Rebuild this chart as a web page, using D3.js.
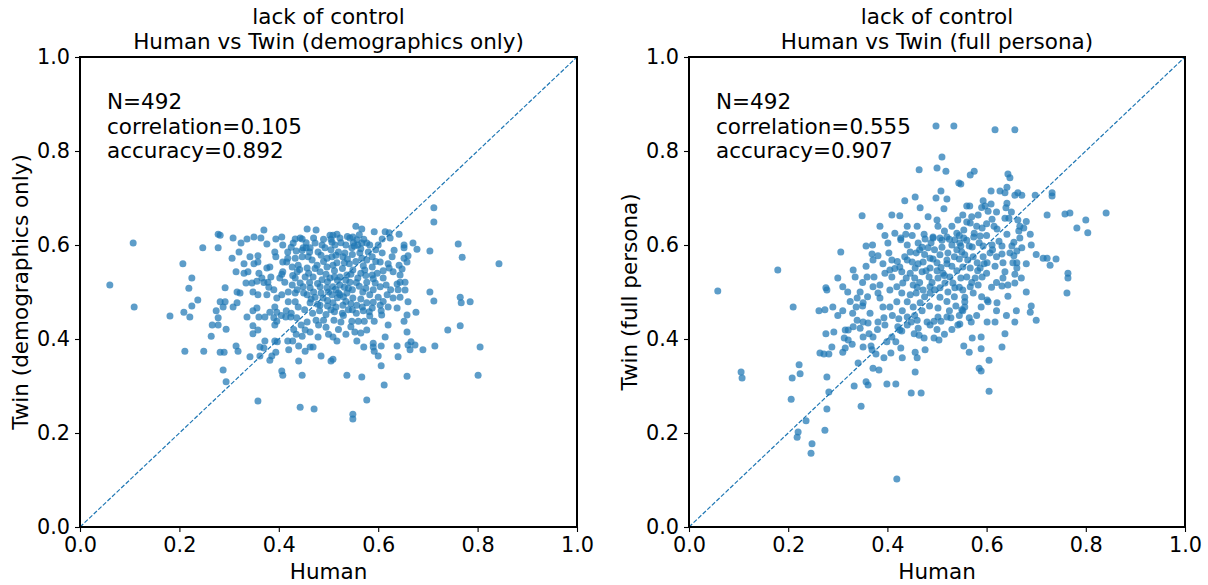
<!DOCTYPE html>
<html>
<head>
<meta charset="utf-8">
<script src="https://cdn.jsdelivr.net/npm/d3@7"></script>
<style>
  body { margin: 0; background: #fff; }
  svg text { font-family: "DejaVu Sans", sans-serif; fill: #000; }
</style>
</head>
<body>
<svg id="chart" width="1208" height="585"></svg>
<script>
// ---- data ----
var ticks = [0.0, 0.2, 0.4, 0.6, 0.8, 1.0];
var titleTop = "lack of control";
var panelTitles = ["Human vs Twin (demographics only)", "Human vs Twin (full persona)"];
var yLabels = ["Twin (demographics only)", "Twin (full persona)"];
var xLabel = "Human";
var statsN = [492, 492];
var statsCorr = ["0.105", "0.555"];
var statsAcc = ["0.892", "0.907"];

// [human, twin] for the demographics-only panel
var demoPoints = [
  [0.107,0.604],[0.06,0.515],[0.109,0.468],[0.207,0.56],[0.225,0.53],[0.219,0.508],[0.247,0.594],[0.278,0.623],[0.282,0.621],
  [0.308,0.615],[0.278,0.594],[0.306,0.572],[0.324,0.604],[0.336,0.613],[0.35,0.617],[0.364,0.615],[0.37,0.632],[0.376,0.602],
  [0.394,0.613],[0.406,0.617],[0.358,0.577],[0.358,0.564],[0.392,0.585],[0.394,0.575],[0.314,0.543],[0.33,0.54],[0.338,0.543],
  [0.366,0.53],[0.292,0.509],[0.316,0.5],[0.322,0.498],[0.237,0.483],[0.225,0.47],[0.282,0.479],[0.292,0.479],[0.316,0.477],
  [0.308,0.468],[0.334,0.519],[0.346,0.519],[0.356,0.523],[0.378,0.521],[0.384,0.532],[0.406,0.538],[0.418,0.572],[0.433,0.613],
  [0.447,0.613],[0.429,0.604],[0.435,0.587],
  [0.712,0.679],[0.712,0.649],[0.761,0.602],[0.769,0.574],[0.843,0.56],[0.704,0.587],[0.678,0.591],[0.67,0.604],[0.652,0.6],
  [0.652,0.594],[0.652,0.572],[0.648,0.549],[0.654,0.521],[0.644,0.521],[0.704,0.5],[0.712,0.481],[0.765,0.489],[0.767,0.477],
  [0.785,0.479],[0.642,0.623],[0.624,0.615],[0.614,0.628],[0.622,0.626],[0.608,0.613],[0.592,0.628],[0.567,0.634],[0.555,0.64],
  [0.457,0.634],[0.475,0.632],[0.632,0.589],[0.66,0.577],[0.658,0.564],[0.642,0.557],[0.644,0.536],[0.63,0.543],[0.622,0.551],
  [0.61,0.53],[0.616,0.515],[0.638,0.517],[0.654,0.504],[0.644,0.489],[0.66,0.479],
  [0.676,0.457],[0.658,0.451],[0.652,0.438],[0.658,0.415],[0.62,0.43],[0.614,0.404],[0.74,0.419],[0.765,0.428],[0.714,0.385],
  [0.69,0.377],[0.805,0.383],[0.801,0.323],[0.658,0.321],[0.638,0.385],[0.64,0.362],[0.66,0.387],[0.666,0.394],[0.674,0.387],
  [0.664,0.377],[0.606,0.385],[0.612,0.302],[0.606,0.343],[0.6,0.364],[0.59,0.391],[0.59,0.383],[0.592,0.374],[0.577,0.27],
  [0.567,0.319],[0.537,0.323],[0.549,0.24],[0.549,0.23],[0.471,0.251],[0.443,0.255],[0.447,0.323],[0.505,0.353],[0.509,0.357],
  [0.485,0.364],[0.453,0.374],[0.463,0.383],[0.469,0.383],[0.517,0.396],[0.509,0.404],[0.479,0.404],[0.571,0.383],[0.557,0.396],
  [0.577,0.419],[0.565,0.413],[0.553,0.415],[0.545,0.426],[0.525,0.436],[0.511,0.44],[0.463,0.415],[0.447,0.406],[0.453,0.419],
  [0.457,0.436],[0.592,0.438],[0.572,0.438],[0.56,0.438],[0.547,0.438],[0.583,0.449],[0.607,0.451],[0.606,0.46],[0.638,0.466],
  [0.181,0.449],[0.209,0.457],[0.221,0.447],[0.211,0.374],[0.249,0.374],[0.282,0.372],[0.29,0.372],[0.264,0.406],[0.266,0.43],
  [0.278,0.43],[0.278,0.445],[0.274,0.46],[0.294,0.421],[0.288,0.334],[0.294,0.309],[0.314,0.385],[0.318,0.374],[0.342,0.362],
  [0.358,0.268],[0.348,0.428],[0.348,0.411],[0.358,0.419],[0.362,0.383],[0.362,0.364],[0.37,0.381],[0.372,0.396],[0.382,0.355],
  [0.386,0.364],[0.394,0.372],[0.392,0.396],[0.397,0.394],[0.406,0.332],[0.408,0.323],[0.418,0.396],[0.428,0.396],[0.44,0.385],
  [0.42,0.377],[0.44,0.353],[0.336,0.447],[0.36,0.447],[0.372,0.447],[0.382,0.457],[0.396,0.457],[0.392,0.43],[0.396,0.438],
  [0.414,0.447],[0.424,0.447],[0.436,0.445],[0.348,0.46],[0.356,0.466],[0.288,0.468],[0.445,0.43],
  [0.443,0.615],[0.449,0.594],[0.455,0.594],[0.463,0.594],[0.473,0.604],[0.487,0.6],[0.493,0.594],[0.503,0.621],[0.509,0.621],
  [0.517,0.623],[0.523,0.615],[0.507,0.606],[0.513,0.6],[0.543,0.615],[0.549,0.617],[0.557,0.611],[0.559,0.6],[0.567,0.604],
  [0.577,0.604],[0.583,0.6],[0.547,0.594],[0.533,0.583],[0.529,0.575],[0.563,0.583],[0.567,0.572],[0.577,0.568],[0.588,0.575],
  [0.608,0.583],[0.447,0.575],[0.459,0.575],[0.467,0.568],[0.479,0.585],[0.477,0.557],[0.497,0.572],[0.507,0.575],[0.509,0.557],
  [0.517,0.562],[0.497,0.553],[0.483,0.543],[0.457,0.551],[0.453,0.532],[0.469,0.532],[0.487,0.526],[0.503,0.53],[0.523,0.532],
  [0.537,0.536],[0.549,0.547],[0.573,0.547],[0.588,0.553],[0.604,0.564],[0.588,0.536],[0.559,0.53],[0.577,0.521],[0.594,0.519],
  [0.604,0.511],[0.543,0.521],[0.523,0.515],[0.509,0.511],[0.497,0.509],[0.483,0.511],[0.463,0.509],[0.449,0.511],[0.457,0.494],
  [0.473,0.489],[0.489,0.487],[0.507,0.494],[0.523,0.494],[0.537,0.498],[0.549,0.487],[0.569,0.5],[0.583,0.494],[0.6,0.489],
  [0.618,0.494],[0.63,0.487],[0.577,0.477],[0.557,0.472],[0.529,0.472],[0.509,0.477],[0.483,0.472],[0.463,0.477],[0.604,0.472],
  [0.62,0.468],
  [0.408,0.564],[0.427,0.553],[0.437,0.543],[0.433,0.53],[0.443,0.519],[0.427,0.515],[0.412,0.521],[0.419,0.5],[0.433,0.498],
  [0.406,0.494],[0.396,0.487],[0.376,0.494],[0.358,0.494],[0.348,0.5],[0.419,0.479],[0.433,0.479],[0.439,0.468],[0.392,0.468],
  [0.408,0.543],[0.416,0.564],[0.433,0.572],[0.439,0.557],[0.382,0.553],[0.376,0.551],[0.402,0.53],[0.408,0.6],[0.447,0.589],
  [0.452,0.462],[0.468,0.455],[0.482,0.46],[0.495,0.452],[0.512,0.458],[0.528,0.455],[0.54,0.462],[0.556,0.455],[0.57,0.46],
  [0.588,0.466],[0.498,0.47],[0.515,0.468],[0.535,0.48],[0.548,0.505],[0.562,0.512],[0.575,0.508],[0.59,0.505],[0.532,0.51],
  [0.518,0.525],[0.495,0.538],[0.512,0.545],[0.528,0.55],[0.542,0.56],[0.555,0.565],[0.538,0.57],[0.52,0.585],[0.505,0.59],
  [0.49,0.565],[0.473,0.55],[0.46,0.54],[0.442,0.548],[0.428,0.535],[0.418,0.585],[0.425,0.595],[0.455,0.605],[0.47,0.615],
  [0.49,0.612],[0.535,0.6],[0.55,0.605],[0.565,0.592],[0.58,0.585],[0.595,0.59],[0.6,0.6],[0.61,0.545],[0.62,0.56],
  [0.628,0.575],[0.598,0.54],[0.565,0.54],[0.575,0.535],[0.47,0.5],[0.485,0.498],[0.5,0.5],[0.515,0.505],[0.53,0.49],
  [0.545,0.475],[0.565,0.485],[0.59,0.478],[0.61,0.48],[0.625,0.505],[0.64,0.505],[0.415,0.46],[0.425,0.455],[0.405,0.45],
  [0.39,0.445],[0.43,0.42],[0.435,0.41],[0.48,0.43],[0.495,0.425],[0.5,0.41],[0.52,0.42],[0.535,0.41],[0.53,0.45],
  [0.49,0.44],[0.475,0.44],[0.38,0.51],[0.39,0.505],[0.37,0.52],[0.36,0.54],[0.35,0.56],[0.342,0.575],[0.32,0.585],[0.33,0.56],
  [0.505,0.612],[0.525,0.605],[0.538,0.618],[0.552,0.598],[0.571,0.612],[0.562,0.622],[0.515,0.578],[0.532,0.562],[0.548,0.58],
  [0.498,0.522],[0.512,0.532],[0.535,0.525],[0.556,0.52],[0.545,0.538],[0.52,0.498],[0.54,0.508],[0.478,0.518],[0.462,0.52],
  [0.465,0.485],[0.498,0.482],[0.518,0.488],[0.548,0.462],[0.568,0.468],[0.582,0.458],[0.505,0.462],[0.478,0.474],[0.59,0.528],
  [0.57,0.556],[0.595,0.565],[0.485,0.578],[0.462,0.585],[0.437,0.505],[0.45,0.498]
];

// [human, twin] for the full-persona panel
var fullPoints = [
  [0.058,0.502],[0.179,0.547],[0.276,0.509],[0.278,0.504],
  [0.498,0.853],[0.534,0.853],[0.51,0.787],[0.5,0.764],[0.518,0.757],[0.464,0.76],[0.544,0.732],[0.508,0.715],[0.456,0.702],
  [0.498,0.7],[0.52,0.698],[0.435,0.694],[0.466,0.679],[0.514,0.677],[0.349,0.662],[0.409,0.664],[0.425,0.662],[0.482,0.66],
  [0.5,0.653],[0.502,0.64],[0.542,0.653],[0.437,0.623],[0.427,0.615],[0.474,0.623],[0.492,0.617],
  [0.617,0.845],[0.657,0.845],[0.575,0.757],[0.567,0.749],[0.643,0.751],[0.647,0.743],[0.609,0.715],[0.627,0.715],[0.641,0.723],
  [0.637,0.711],[0.663,0.711],[0.671,0.706],[0.657,0.706],[0.698,0.706],[0.732,0.711],[0.732,0.704],[0.548,0.73],[0.593,0.694],
  [0.609,0.687],[0.597,0.683],[0.641,0.689],[0.639,0.679],[0.603,0.672],[0.56,0.683],[0.566,0.683],[0.722,0.664],[0.758,0.666],
  [0.768,0.668],[0.841,0.668],[0.8,0.653],[0.782,0.636],[0.804,0.626],[0.637,0.657],[0.645,0.657],[0.611,0.655],[0.583,0.664],
  [0.552,0.664],[0.663,0.653],[0.667,0.64],[0.675,0.636],[0.665,0.63],[0.688,0.623],[0.641,0.623],[0.621,0.634],[0.667,0.615],
  [0.671,0.594],[0.655,0.606],[0.651,0.598],[0.631,0.598],[0.611,0.6],[0.593,0.598],[0.587,0.619],[0.574,0.617],[0.567,0.647],
  [0.554,0.632],[0.56,0.649],[0.591,0.636],[0.714,0.572],[0.722,0.572],[0.74,0.57],[0.728,0.557],[0.764,0.54],[0.764,0.53],
  [0.762,0.498],[0.631,0.581],[0.647,0.583],[0.655,0.577],[0.661,0.587],[0.633,0.562],[0.653,0.562],[0.661,0.562],[0.661,0.551],
  [0.617,0.555],[0.657,0.538],[0.637,0.543],[0.633,0.53],[0.631,0.513],[0.643,0.515],[0.657,0.519],[0.643,0.491],
  [0.688,0.457],[0.657,0.436],[0.617,0.436],[0.601,0.436],[0.637,0.411],[0.631,0.383],[0.589,0.404],[0.571,0.402],[0.554,0.385],
  [0.565,0.372],[0.589,0.379],[0.605,0.355],[0.585,0.338],[0.589,0.332],[0.605,0.289],[0.589,0.468],[0.603,0.479],[0.621,0.477],
  [0.565,0.445],[0.569,0.436],[0.552,0.46],[0.556,0.468],[0.546,0.432],
  [0.21,0.468],[0.262,0.46],[0.274,0.462],[0.276,0.411],[0.264,0.37],[0.272,0.368],[0.282,0.368],[0.222,0.345],[0.224,0.326],
  [0.208,0.317],[0.105,0.33],[0.107,0.317],[0.206,0.272],[0.278,0.319],[0.282,0.287],[0.278,0.251],[0.236,0.226],[0.22,0.202],
  [0.218,0.191],[0.274,0.206],[0.248,0.177],[0.246,0.157],
  [0.347,0.257],[0.419,0.102],
  [0.448,0.285],[0.468,0.285],[0.456,0.33],[0.399,0.304],[0.417,0.304],[0.333,0.3],[0.357,0.309],[0.361,0.302],[0.371,0.338],
  [0.383,0.334],[0.341,0.349],[0.393,0.36],[0.407,0.37],[0.43,0.36],[0.46,0.36],[0.456,0.372],[0.427,0.381],[0.476,0.377],
  [0.377,0.368],[0.369,0.377],[0.351,0.383],[0.31,0.372],[0.315,0.381],[0.288,0.383],[0.329,0.389],[0.321,0.398],[0.313,0.402],
  [0.351,0.404],[0.363,0.411],[0.371,0.404],[0.367,0.385],[0.292,0.415],[0.315,0.419],[0.321,0.419],[0.331,0.426],[0.345,0.423],
  [0.351,0.436],[0.361,0.434],[0.339,0.44],[0.381,0.436],[0.393,0.445],[0.423,0.443],[0.399,0.394],[0.409,0.404],[0.417,0.394],
  [0.425,0.419],[0.429,0.417],[0.421,0.426],[0.44,0.447],[0.448,0.436],[0.462,0.423],[0.454,0.411],[0.464,0.408],[0.474,0.402],
  [0.48,0.436],[0.494,0.438],[0.508,0.438],[0.486,0.43],[0.494,0.402],[0.504,0.398],[0.528,0.445],[0.542,0.43],[0.52,0.447],
  [0.306,0.585],[0.357,0.598],[0.331,0.547],[0.335,0.532],[0.31,0.511],[0.29,0.468],[0.337,0.468],[0.339,0.487],[0.351,0.477],
  [0.357,0.555],[0.371,0.568],[0.369,0.581],[0.381,0.577],[0.359,0.532],[0.373,0.532],[0.371,0.511],[0.385,0.515],[0.381,0.498],
  [0.385,0.487],[0.391,0.56],[0.401,0.604],[0.403,0.583],[0.409,0.568],[0.405,0.547],[0.409,0.532],[0.425,0.553],[0.427,0.611],
  [0.446,0.585],[0.458,0.583],[0.462,0.604],[0.476,0.613],[0.482,0.594],[0.486,0.572],[0.472,0.564],[0.44,0.568],[0.45,0.564],
  [0.429,0.543],[0.446,0.54],[0.456,0.551],[0.47,0.543],[0.484,0.532],[0.486,0.551],[0.5,0.562],[0.506,0.579],[0.522,0.583],
  [0.52,0.568],[0.512,0.54],[0.502,0.53],[0.526,0.532],[0.516,0.519],[0.532,0.519],[0.486,0.511],[0.452,0.515],[0.431,0.519],
  [0.419,0.511],[0.405,0.504],[0.429,0.498],[0.446,0.494],[0.458,0.498],[0.472,0.504],[0.486,0.498],[0.506,0.509],[0.506,0.489],
  [0.502,0.466],[0.502,0.447],[0.536,0.509],[0.44,0.479],[0.452,0.468],[0.466,0.477],[0.419,0.479],[0.405,0.468],[0.391,0.468],
  [0.365,0.455],[0.492,0.615],[0.506,0.615],[0.52,0.617],[0.536,0.611],
  [0.55,0.585],[0.556,0.579],[0.562,0.568],[0.573,0.575],[0.581,0.562],[0.587,0.551],[0.567,0.551],[0.552,0.553],[0.56,0.532],
  [0.577,0.53],[0.591,0.532],[0.583,0.515],[0.567,0.511],[0.552,0.504],[0.573,0.498],[0.556,0.489],[0.601,0.483],[0.593,0.575],
  [0.601,0.562],[0.607,0.583],[0.554,0.615],[0.571,0.596],[0.546,0.604],[0.556,0.479],[0.55,0.462],
  [0.53,0.6],[0.54,0.59],[0.545,0.57],[0.53,0.555],[0.54,0.545],[0.548,0.53],[0.522,0.5],[0.535,0.49],[0.52,0.48],
  [0.538,0.47],[0.525,0.46],[0.515,0.63],[0.53,0.64],[0.54,0.625],[0.46,0.64],[0.45,0.62],[0.44,0.64],[0.415,0.625],
  [0.395,0.62],[0.385,0.64],[0.37,0.6],[0.35,0.52],[0.32,0.5],[0.325,0.48],[0.31,0.46],[0.3,0.45],[0.33,0.455],
  [0.345,0.5],[0.395,0.54],[0.415,0.55],[0.435,0.575],[0.455,0.53],[0.465,0.52],[0.49,0.52],[0.5,0.545],[0.475,0.58],
  [0.495,0.59],[0.51,0.595],[0.465,0.59],[0.455,0.45],[0.47,0.46],[0.485,0.47],[0.41,0.45],[0.395,0.43],[0.38,0.42],
  [0.43,0.46],[0.44,0.43],[0.46,0.44],[0.5,0.42],[0.515,0.41],[0.53,0.42],[0.545,0.45],[0.58,0.45],[0.59,0.49],
  [0.61,0.51],[0.62,0.52],[0.6,0.54],[0.62,0.575],[0.6,0.62],[0.615,0.64],[0.58,0.64],[0.57,0.66],[0.59,0.68],
  [0.62,0.67],[0.65,0.67],[0.68,0.65],[0.69,0.6],[0.7,0.58],[0.68,0.56],[0.67,0.53],[0.68,0.5],[0.69,0.47],
  [0.7,0.44],[0.66,0.46],[0.64,0.45],[0.62,0.46],[0.35,0.47],[0.36,0.49],[0.3,0.53],
  [0.525,0.612],[0.545,0.62],[0.56,0.61],[0.575,0.625],[0.585,0.605],[0.565,0.598],[0.548,0.598],[0.535,0.575],[0.52,0.56],
  [0.508,0.552],[0.492,0.57],[0.478,0.545],[0.462,0.56],[0.47,0.595],[0.488,0.605],[0.51,0.61],[0.595,0.56],[0.612,0.59],
  [0.625,0.608],[0.6,0.645],[0.582,0.545],[0.57,0.52],[0.545,0.51],[0.515,0.535],[0.495,0.505],[0.475,0.49],[0.46,0.51],
  [0.438,0.53],[0.42,0.565],[0.44,0.6]
];

// ---- layout ----
var svg = d3.select("#chart");
var plotTop = 57, plotBottom = 527;
var panels = [
  { left: 80, right: 577, points: demoPoints },
  { left: 689, right: 1185, points: fullPoints }
];
var blue = "#1f77b4";
var tickFs = "20.8px";
var fs = "21.5px";

panels.forEach(function (p, i) {
  var x = d3.scaleLinear().domain([0, 1]).range([p.left, p.right]);
  var y = d3.scaleLinear().domain([0, 1]).range([plotBottom, plotTop]);
  var g = svg.append("g");
  var cx = (p.left + p.right) / 2;

  // diagonal
  g.append("line")
    .attr("x1", x(0)).attr("y1", y(0))
    .attr("x2", x(1)).attr("y2", y(1))
    .attr("stroke", blue)
    .attr("stroke-width", 1.2)
    .attr("stroke-dasharray", "4.4,1.9");

  // points
  g.append("g")
    .selectAll("circle")
    .data(p.points)
    .enter()
    .append("circle")
    .attr("cx", function (d) { return x(d[0]); })
    .attr("cy", function (d) { return y(d[1]); })
    .attr("r", 3.5)
    .attr("fill", blue)
    .attr("fill-opacity", 0.72);

  // axes
  var xa = g.append("g")
    .attr("transform", "translate(0," + plotBottom + ")")
    .call(d3.axisBottom(x).tickValues(ticks).tickFormat(d3.format(".1f")).tickSize(5).tickPadding(5));
  var ya = g.append("g")
    .attr("transform", "translate(" + p.left + ",0)")
    .call(d3.axisLeft(y).tickValues(ticks).tickFormat(d3.format(".1f")).tickSize(5).tickPadding(5));
  [xa, ya].forEach(function (a) {
    a.select(".domain").remove();
    a.selectAll("line").attr("stroke", "#000").attr("stroke-width", 1.1);
    a.selectAll("text").style("font-size", tickFs).style("font-family", "DejaVu Sans");
  });

  // frame
  g.append("rect")
    .attr("x", p.left).attr("y", plotTop)
    .attr("width", p.right - p.left).attr("height", plotBottom - plotTop)
    .attr("fill", "none").attr("stroke", "#000").attr("stroke-width", 1.1)
    .attr("shape-rendering", "crispEdges");

  // titles
  g.append("text").attr("x", cx).attr("y", 24).attr("text-anchor", "middle")
    .style("font-size", fs).text(titleTop);
  g.append("text").attr("x", cx).attr("y", 49).attr("text-anchor", "middle")
    .style("font-size", fs).text(panelTitles[i]);

  // axis labels
  g.append("text").attr("x", cx).attr("y", 579).attr("text-anchor", "middle")
    .style("font-size", fs).text(xLabel);
  g.append("text")
    .attr("transform", "translate(" + (p.left - 52) + "," + ((plotTop + plotBottom) / 2) + ") rotate(-90)")
    .attr("text-anchor", "middle")
    .style("font-size", fs).text(yLabels[i]);

  // stats box
  var lines = ["N=" + statsN[i], "correlation=" + statsCorr[i], "accuracy=" + statsAcc[i]];
  g.append("g").selectAll("text").data(lines).enter().append("text")
    .attr("x", p.left + 27)
    .attr("y", function (d, k) { return 109 + k * 24.5; })
    .style("font-size", fs)
    .text(function (d) { return d; });
});
</script>
</body>
</html>
